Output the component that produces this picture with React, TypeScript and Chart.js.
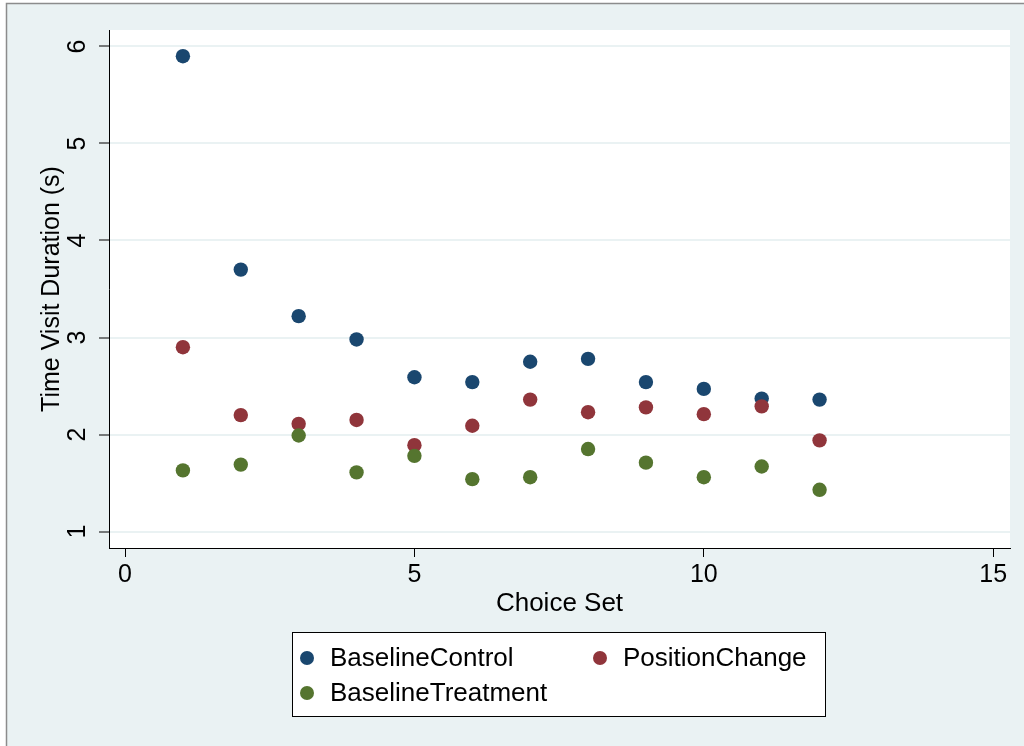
import React, { useEffect, useRef } from "react";
import { Chart, registerables } from "chart.js";

Chart.register(...registerables);

const choiceSets = [1, 2, 3, 4, 5, 6, 7, 8, 9, 10, 11, 12];
const baselineControl = [5.9, 3.7, 3.22, 2.98, 2.59, 2.54, 2.75, 2.78, 2.54, 2.47, 2.37, 2.36];
const positionChange = [2.9, 2.2, 2.11, 2.15, 1.89, 2.09, 2.36, 2.23, 2.28, 2.21, 2.29, 1.94];
const baselineTreatment = [1.63, 1.69, 1.99, 1.61, 1.78, 1.54, 1.56, 1.85, 1.71, 1.56, 1.67, 1.43];
const seriesNames = ["BaselineControl", "PositionChange", "BaselineTreatment"];
const seriesColors = ["#1a476f", "#90353b", "#55752f"];
const xTicks = [0, 5, 10, 15];
const yTicks = [1, 2, 3, 4, 5, 6];
const xTitle = "Choice Set";
const yTitle = "Time Visit Duration (s)";

const FONT = "'Liberation Sans', Arial, Helvetica, sans-serif";
const BG = "#eaf2f3";

const backgroundPlugin = {
  id: "stataBackground",
  beforeDraw(chart: any) {
    const { ctx, width, height, chartArea } = chart;
    ctx.save();
    ctx.fillStyle = "#ffffff";
    ctx.fillRect(0, 0, width, height);
    ctx.fillStyle = BG;
    ctx.fillRect(7, 4, width - 7, height - 4);
    ctx.strokeStyle = "#8c8c8c";
    ctx.lineWidth = 1.5;
    ctx.beginPath();
    ctx.moveTo(6.5, height);
    ctx.lineTo(6.5, 3.5);
    ctx.lineTo(width, 3.5);
    ctx.stroke();
    ctx.fillStyle = "#ffffff";
    ctx.fillRect(chartArea.left, chartArea.top, chartArea.right - chartArea.left, chartArea.bottom - chartArea.top);
    ctx.restore();
  },
};

const yLabelPlugin = {
  id: "rotatedYLabels",
  afterDraw(chart: any) {
    const { ctx } = chart;
    const scale = chart.scales.y;
    ctx.save();
    ctx.fillStyle = "#000";
    ctx.font = `25px ${FONT}`;
    ctx.textAlign = "center";
    ctx.textBaseline = "middle";
    scale.ticks.forEach((t: any) => {
      const y = scale.getPixelForValue(t.value);
      ctx.save();
      ctx.translate(78, y);
      ctx.rotate(-Math.PI / 2);
      ctx.fillText(String(t.value), 0, 0);
      ctx.restore();
    });
    ctx.restore();
  },
};

const legendPlugin = {
  id: "boxLegend",
  afterDraw(chart: any) {
    const { ctx } = chart;
    const boxX = 292.5, boxY = 632.5, boxW = 533, boxH = 84;
    ctx.save();
    ctx.fillStyle = "#fff";
    ctx.fillRect(boxX, boxY, boxW, boxH);
    ctx.strokeStyle = "#000";
    ctx.lineWidth = 1;
    ctx.strokeRect(boxX, boxY, boxW, boxH);
    const slots = [
      { x: 307, y: 658 },
      { x: 600, y: 658 },
      { x: 307, y: 693 },
    ];
    ctx.font = `26px ${FONT}`;
    ctx.textBaseline = "middle";
    ctx.textAlign = "left";
    chart.data.datasets.forEach((ds: any, i: number) => {
      const s = slots[i];
      ctx.fillStyle = ds.backgroundColor;
      ctx.beginPath();
      ctx.arc(s.x, s.y, 7, 0, Math.PI * 2);
      ctx.fill();
      ctx.fillStyle = "#000";
      ctx.fillText(ds.label, s.x + 23, s.y + 1);
    });
    ctx.restore();
  },
};

export default function App() {
  const ref = useRef<HTMLCanvasElement | null>(null);
  useEffect(() => {
    if (!ref.current) return;
    const series = [baselineControl, positionChange, baselineTreatment];
    const chart = new Chart(ref.current, {
      type: "scatter",
      data: {
        datasets: series.map((vals, i) => ({
          label: seriesNames[i],
          data: choiceSets.map((x, j) => ({ x, y: vals[j] })),
          backgroundColor: seriesColors[i],
          borderColor: seriesColors[i],
          borderWidth: 0,
          pointRadius: 7.2,
          order: 2 - i,
        })),
      },
      options: {
        responsive: false,
        animation: false,
        events: [],
        layout: { padding: { left: 0, top: 30, right: 14, bottom: 126 } },
        plugins: {
          legend: { display: false },
          tooltip: { enabled: false },
        },
        scales: {
          x: {
            type: "linear",
            min: -0.277,
            max: 15.29,
            afterBuildTicks: (s: any) => {
              s.ticks = xTicks.map((v) => ({ value: v }));
            },
            afterFit: (s: any) => {
              s.height = 72;
            },
            grid: {
              display: true,
              drawOnChartArea: false,
              drawTicks: true,
              tickLength: 9,
              tickColor: "#000",
              tickWidth: 1,
            },
            border: { display: true, color: "#000", width: 1 },
            ticks: {
              color: "#000",
              font: { family: FONT, size: 25 },
              padding: 3,
              maxRotation: 0,
              minRotation: 0,
            },
            title: {
              display: true,
              text: xTitle,
              color: "#000",
              font: { family: FONT, size: 26 },
              padding: { top: 0, bottom: 1 },
            },
          },
          y: {
            type: "linear",
            min: 0.83,
            max: 6.17,
            afterBuildTicks: (s: any) => {
              s.ticks = yTicks.map((v) => ({ value: v }));
            },
            afterFit: (s: any) => {
              s.width = 109;
            },
            grid: {
              display: true,
              drawOnChartArea: true,
              drawTicks: true,
              color: BG,
              lineWidth: 2,
              tickLength: 10,
              tickColor: "#000",
              tickWidth: 1,
            },
            border: { display: true, color: "#000", width: 1 },
            ticks: { display: false },
            title: {
              display: true,
              text: yTitle,
              color: "#000",
              font: { family: FONT, size: 25 },
              padding: { top: 37, bottom: 0 },
            },
          },
        },
      },
      plugins: [backgroundPlugin, yLabelPlugin, legendPlugin],
    });
    return () => chart.destroy();
  }, []);
  return (
    <div style={{ position: "absolute", left: 0, top: 0, width: 1024, height: 746 }}>
      <canvas ref={ref} width={1024} height={746} style={{ display: "block" }} />
    </div>
  );
}
